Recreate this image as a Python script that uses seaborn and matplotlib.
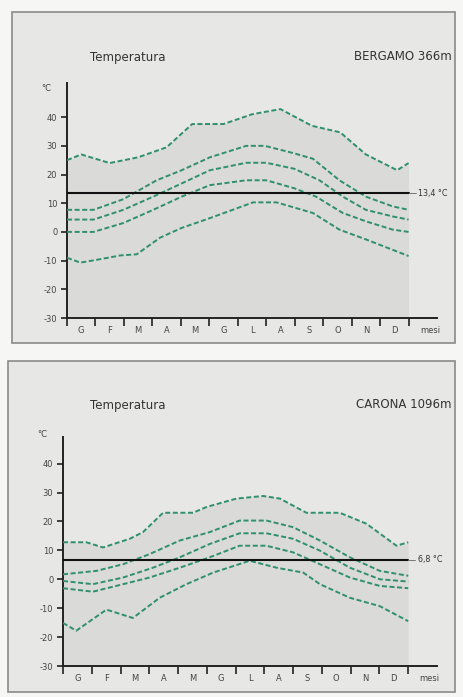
import numpy as np
import matplotlib
matplotlib.use("Agg")
import matplotlib.pyplot as plt
import seaborn as sns
from matplotlib.patches import Rectangle

# mesi (etichette) e posizioni dei tick
MESI = ["G", "F", "M", "A", "M", "G", "L", "A", "S", "O", "N", "D"]
Y_TICKS = [40, 30, 20, 10, 0, -10, -20, -30]

# Bergamo: curve (x in mesi da 0 a 12, t in gradi C)
BG_MAX_X = [0, 0.5, 1.5, 2.5, 3.5, 4.4, 5.5, 6.5, 7.5, 8.6, 9.6, 10.5, 11.6, 12]
BG_MAX = [25, 27, 24, 26, 29.5, 37.6, 37.6, 41, 42.8, 37, 34.7, 27, 21.5, 24]
BG_C2_X = [0, 0.93, 1.98, 3.15, 4.03, 5.02, 6.3, 6.95, 7.94, 8.64, 9.57, 10.5, 11.44, 12]
BG_C2 = [7.7, 7.7, 11.4, 18, 21.5, 26, 30, 30, 27.5, 25.5, 18, 12.3, 8.9, 7.7]
BG_C3_X = [0, 0.93, 1.98, 3.03, 4.03, 5.02, 6.3, 7.0, 7.99, 8.87, 9.69, 10.5, 11.44, 12]
BG_C3 = [4.3, 4.3, 7.7, 12.3, 16.9, 21.5, 24.1, 24.1, 22, 18, 12.3, 7.7, 5.4, 4.3]
BG_C4_X = [0, 0.93, 1.98, 3.03, 4.03, 5.02, 6.3, 7.0, 7.99, 8.75, 9.69, 10.5, 11.44, 12]
BG_C4 = [0, 0, 3.1, 7.7, 12.3, 16.3, 18, 18, 15.2, 12.3, 6.6, 3.7, 0.8, 0]
BG_MIN_X = [0, 0.47, 1.17, 1.87, 2.45, 3.27, 4.03, 5.02, 6.54, 7.36, 8.64, 9.57, 10.5, 12]
BG_MIN = [-9, -10.7, -9.5, -8.2, -7.8, -2, 1.4, 4.8, 10.3, 10.3, 6.6, 0.8, -2.6, -8.4]
BG_MEDIA = 13.4

# Carona
CA_MAX_X = [0, 0.81, 1.39, 2.32, 2.78, 3.48, 4.52, 4.99, 6.03, 6.96, 7.54, 8.46, 9.62, 10.55, 11.59, 12]
CA_MAX = [12.8, 12.8, 11, 14, 16.3, 23, 23, 25, 27.9, 28.8, 27.9, 23, 23, 19.2, 11.6, 12.8]
CA_C2_X = [0, 1.16, 2.09, 3.01, 4.06, 5.1, 6.14, 7.07, 8.0, 8.93, 9.97, 11.01, 12]
CA_C2 = [1.7, 2.9, 5.2, 8.7, 13.4, 16.3, 20.3, 20.3, 18, 13.4, 7.6, 2.9, 1.2]
CA_C3_X = [0, 1.04, 2.09, 3.13, 4.06, 5.1, 6.14, 7.07, 8.0, 8.93, 9.97, 11.01, 12]
CA_C3 = [-0.6, -1.7, 0.6, 4, 7.6, 12.2, 15.9, 15.9, 14, 9.9, 4, 0, -0.8]
CA_C4_X = [0, 1.04, 2.09, 3.01, 4.06, 5.1, 6.14, 7.07, 8.0, 8.93, 9.97, 11.01, 12]
CA_C4 = [-3.1, -4.3, -1.7, 0.6, 4, 7.6, 11.6, 11.6, 9.3, 5.2, 0.6, -2.3, -3.1]
CA_MIN_X = [0, 0.46, 1.51, 2.43, 3.36, 4.29, 5.22, 6.49, 7.42, 8.35, 8.93, 9.97, 11.01, 12]
CA_MIN = [-15.1, -17.8, -10.5, -13.4, -6.4, -1.7, 2.3, 6.4, 4, 2.3, -1.7, -6.4, -9.3, -14.5]
CA_MEDIA = 6.8

W, H = 463, 697
VERDE = "#2f8f6f"
TRATTO = (0, (2.6, 1.3))

sns.set_theme(style="white")
plt.rcParams["font.family"] = ["DejaVu Sans"]

fig = plt.figure(figsize=(W / 100, H / 100), dpi=100)
fig.patch.set_facecolor("#f6f6f4")


def px_rect(x0, y0, x1, y1):
    # da pixel (origine in alto) a coordinate figura
    return [x0 / W, 1 - y1 / H, (x1 - x0) / W, (y1 - y0) / H]


def pannello(frame, box, ylim, curve, media, label_media, stazione, titolo_y):
    fx0, fy0, fx1, fy1 = frame
    fig.patches.append(Rectangle((fx0 / W, 1 - fy1 / H), (fx1 - fx0) / W, (fy1 - fy0) / H,
                                 transform=fig.transFigure, facecolor="#e7e7e5",
                                 edgecolor="#8a8a8a", lw=1.2, zorder=-5))
    fig.text(90 / W, 1 - titolo_y / H, "Temperatura", fontsize=8.5, color="#333333",
             va="center", ha="left")
    fig.text(452 / W, 1 - titolo_y / H, stazione, fontsize=8.5, color="#333333",
             va="center", ha="right")

    ax = fig.add_axes(px_rect(*box))
    ax.set_facecolor("none")
    ax.set_xlim(0, 13)
    ax.set_ylim(*ylim)

    xs_max, ys_max = curve[0]
    ax.fill_between(xs_max, ys_max, ylim[0], color="#dadad8", lw=0, zorder=1)

    for xs, ys in curve:
        sns.lineplot(x=xs, y=ys, ax=ax, sort=False, color=VERDE, lw=1.4,
                     linestyle=TRATTO, zorder=3)

    ax.plot([0, 12], [media, media], color="#111111", lw=1.5, zorder=4)
    ax.plot([12, 12.25], [media, media], color="#777777", lw=0.7, zorder=4, clip_on=False)
    ax.text(12.35, media, label_media, fontsize=5.8, color="#333333", va="center",
            ha="left", clip_on=False)

    for s in ["top", "right"]:
        ax.spines[s].set_visible(False)
    for s in ["left", "bottom"]:
        ax.spines[s].set_color("#222222")
        ax.spines[s].set_linewidth(1.4)

    ax.set_yticks(Y_TICKS)
    ax.set_yticklabels([str(v) for v in Y_TICKS])
    ax.tick_params(axis="y", direction="out", length=4, width=1.2, color="#222222",
                   labelsize=6, labelcolor="#444444", pad=3, left=True)
    ax.text(-0.55, 50, "°C", fontsize=6, color="#444444", ha="right", va="center",
            clip_on=False)

    ax.set_xticks(range(13))
    ax.set_xticklabels([])
    ax.tick_params(axis="x", direction="out", length=6, width=1.2, color="#222222",
                   bottom=True)
    for i, m in enumerate(MESI):
        ax.text(i + 0.5, ylim[0] - 0.035 * (ylim[1] - ylim[0]), m, fontsize=6,
                color="#444444", ha="center", va="top", clip_on=False)
    ax.text(12.75, ylim[0] - 0.035 * (ylim[1] - ylim[0]), "mesi", fontsize=6,
            color="#444444", ha="center", va="top", clip_on=False)
    ax.set_xlabel("")
    ax.set_ylabel("")
    return ax


pannello((12, 12, 455, 343), (67, 83, 437, 318), (-30, 51.9),
         [(BG_MAX_X, BG_MAX), (BG_C2_X, BG_C2), (BG_C3_X, BG_C3),
          (BG_C4_X, BG_C4), (BG_MIN_X, BG_MIN)],
         BG_MEDIA, "13,4 °C", "BERGAMO 366m", 57)

pannello((8, 361, 455, 692), (63, 437, 437, 666), (-30, 49.2),
         [(CA_MAX_X, CA_MAX), (CA_C2_X, CA_C2), (CA_C3_X, CA_C3),
          (CA_C4_X, CA_C4), (CA_MIN_X, CA_MIN)],
         CA_MEDIA, "6,8 °C", "CARONA 1096m", 405)

fig.savefig("out.png", dpi=100, facecolor=fig.get_facecolor())
